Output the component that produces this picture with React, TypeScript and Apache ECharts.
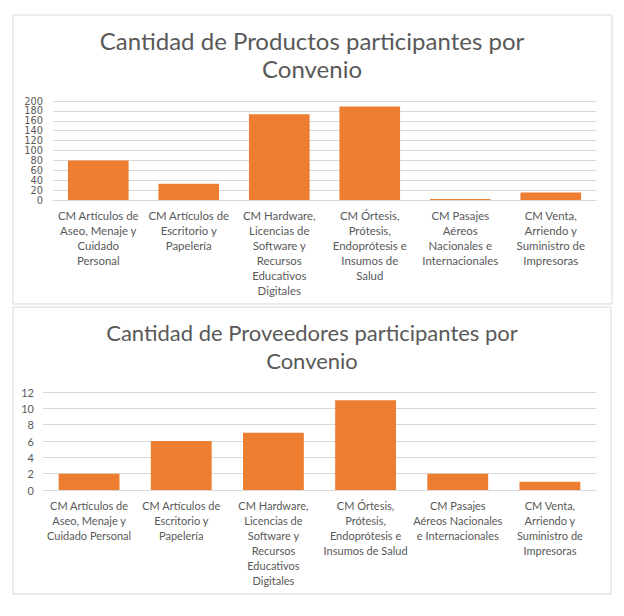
import React, { useEffect, useRef } from "react";
import * as echarts from "echarts";

const categories = [
  "CM Artículos de Aseo, Menaje y Cuidado Personal",
  "CM Artículos de Escritorio y Papelería",
  "CM Hardware, Licencias de Software y Recursos Educativos Digitales",
  "CM Órtesis, Prótesis, Endoprótesis e Insumos de Salud",
  "CM Pasajes Aéreos Nacionales e Internacionales",
  "CM Venta, Arriendo y Suministro de Impresoras",
];

const productLabels = [
  "CM Artículos de\nAseo, Menaje y\nCuidado\nPersonal",
  "CM Artículos de\nEscritorio y\nPapelería",
  "CM Hardware,\nLicencias de\nSoftware y\nRecursos\nEducativos\nDigitales",
  "CM Órtesis,\nPrótesis,\nEndoprótesis e\nInsumos de\nSalud",
  "CM Pasajes\nAéreos\nNacionales e\nInternacionales",
  "CM Venta,\nArriendo y\nSuministro de\nImpresoras",
];

const providerLabels = [
  "CM Artículos de\nAseo, Menaje y\nCuidado Personal",
  "CM Artículos de\nEscritorio y\nPapelería",
  "CM Hardware,\nLicencias de\nSoftware y\nRecursos\nEducativos\nDigitales",
  "CM Órtesis,\nPrótesis,\nEndoprótesis e\nInsumos de Salud",
  "CM Pasajes\nAéreos Nacionales\ne Internacionales",
  "CM Venta,\nArriendo y\nSuministro de\nImpresoras",
];

const productCounts = [80, 33, 173, 189, 2, 15];
const providerCounts = [2, 6, 7, 11, 2, 1];

const titleProducts = "Cantidad de Productos participantes por\nConvenio";
const titleProviders = "Cantidad de Proveedores participantes por\nConvenio";

const FONT = "Lato, 'Open Sans', sans-serif";
const TEXT = "#595959";
const GRID = "#D9D9D9";
const ORANGE = "#ED7D31";

export default function App() {
  const ref = useRef<HTMLDivElement>(null);
  useEffect(() => {
    if (!ref.current) return;
    const chart = echarts.init(ref.current, undefined, { renderer: "svg" });
    const labelMap = (arr: string[]) => (v: string) => arr[categories.indexOf(v)] ?? v;
    chart.setOption({
      animation: false,
      backgroundColor: "#ffffff",
      textStyle: { fontFamily: FONT },
      title: [
        {
          text: titleProducts,
          left: 312,
          top: 26,
          textAlign: "center",
          padding: 0,
          textStyle: { fontFamily: FONT, fontSize: 24, fontWeight: "normal", color: TEXT, lineHeight: 28 },
        },
        {
          text: titleProviders,
          left: 312,
          top: 318,
          textAlign: "center",
          padding: 0,
          textStyle: { fontFamily: FONT, fontSize: 22, fontWeight: "normal", color: TEXT, lineHeight: 28 },
        },
      ],
      graphic: [
        { type: "rect", shape: { x: 13, y: 15, width: 599, height: 289 }, style: { fill: "none", stroke: GRID, lineWidth: 1 }, silent: true },
        { type: "rect", shape: { x: 13, y: 307, width: 598, height: 287 }, style: { fill: "none", stroke: GRID, lineWidth: 1 }, silent: true },
      ],
      grid: [
        { left: 53, right: 28, top: 101, height: 99 },
        { left: 43, right: 28, top: 392, height: 98 },
      ],
      xAxis: [
        {
          type: "category",
          gridIndex: 0,
          data: categories,
          axisLine: { show: true, lineStyle: { color: GRID } },
          axisTick: { show: false },
          axisLabel: {
            interval: 0,
            margin: 8,
            color: TEXT,
            fontFamily: FONT,
            fontSize: 11.4,
            lineHeight: 15,
            align: "center",
            formatter: labelMap(productLabels),
          },
        },
        {
          type: "category",
          gridIndex: 1,
          data: categories,
          axisLine: { show: true, lineStyle: { color: GRID } },
          axisTick: { show: false },
          axisLabel: {
            interval: 0,
            margin: 8,
            color: TEXT,
            fontFamily: FONT,
            fontSize: 11,
            lineHeight: 15,
            align: "center",
            formatter: labelMap(providerLabels),
          },
        },
      ],
      yAxis: [
        {
          type: "value",
          gridIndex: 0,
          min: 0,
          max: 200,
          interval: 20,
          axisLine: { show: false },
          axisTick: { show: false },
          splitLine: { lineStyle: { color: GRID } },
          axisLabel: {
            color: TEXT,
            fontFamily: "'DejaVu Sans', sans-serif",
            fontSize: 9.8,
            lineHeight: 9.8,
            margin: 10,
            hideOverlap: false,
            showMinLabel: true,
            showMaxLabel: true,
          },
        },
        {
          type: "value",
          gridIndex: 1,
          min: 0,
          max: 12,
          interval: 2,
          axisLine: { show: false },
          axisTick: { show: false },
          splitLine: { lineStyle: { color: GRID } },
          axisLabel: { color: TEXT, fontFamily: FONT, fontSize: 11, margin: 9 },
        },
      ],
      series: [
        {
          type: "bar",
          xAxisIndex: 0,
          yAxisIndex: 0,
          data: productCounts,
          barCategoryGap: "33%",
          itemStyle: { color: ORANGE },
        },
        {
          type: "bar",
          xAxisIndex: 1,
          yAxisIndex: 1,
          data: providerCounts,
          barCategoryGap: "34%",
          itemStyle: { color: ORANGE },
        },
      ],
    });
    return () => chart.dispose();
  }, []);
  return (
    <div
      ref={ref}
      style={{ position: "fixed", left: 0, top: 0, width: 624, height: 616 }}
    />
  );
}
